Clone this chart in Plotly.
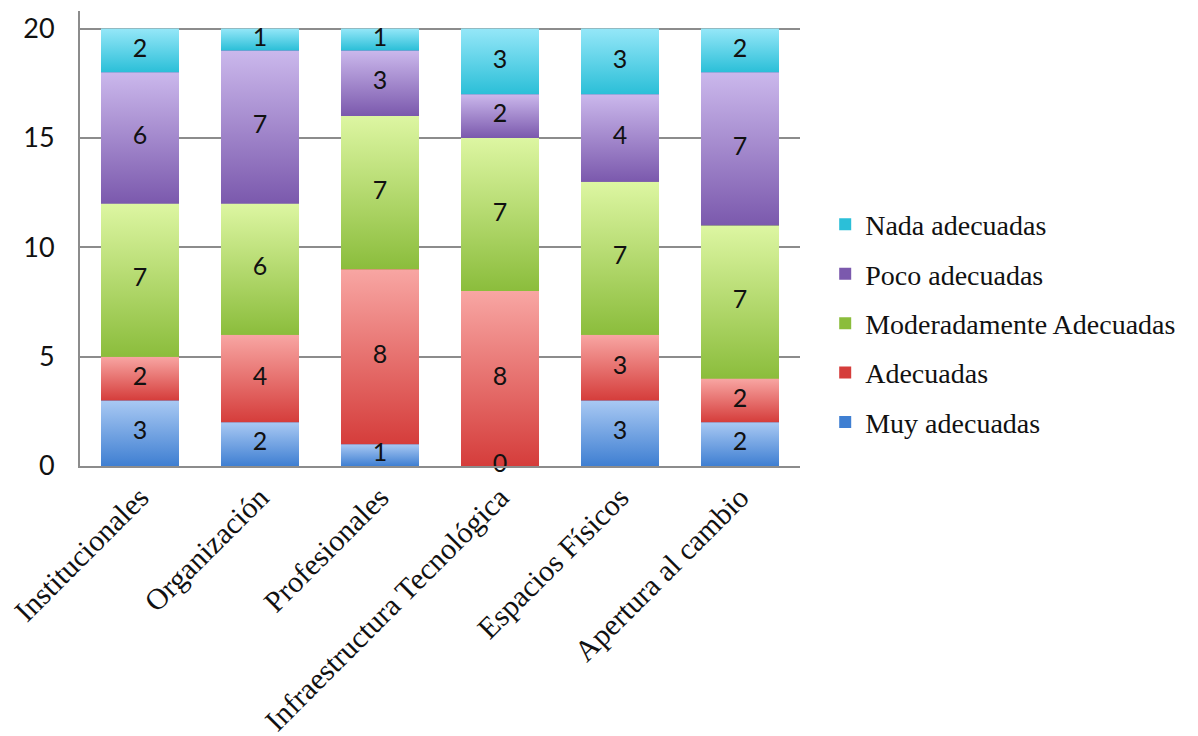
import plotly.graph_objects as go

# Categories (x axis) and the count of responses per rating level
categories = [
    "Institucionales",
    "Organización",
    "Profesionales",
    "Infraestructura Tecnológica",
    "Espacios Físicos",
    "Apertura al cambio",
]
muy_adecuadas = [3, 2, 1, 0, 3, 2]
adecuadas = [2, 4, 8, 8, 3, 2]
moderadamente_adecuadas = [7, 6, 7, 7, 7, 7]
poco_adecuadas = [6, 7, 3, 2, 4, 7]
nada_adecuadas = [2, 1, 1, 3, 3, 2]

y_ticks = [0, 5, 10, 15, 20]

# (name, values, light top colour, dark bottom colour), stacked bottom to top
series = [
    ("Muy adecuadas", muy_adecuadas, "#a9c9f3", "#3f7fd2"),
    ("Adecuadas", adecuadas, "#f8a6a3", "#d53d3b"),
    ("Moderadamente Adecuadas", moderadamente_adecuadas, "#ddf6a2", "#8bbd3c"),
    ("Poco adecuadas", poco_adecuadas, "#cbb8ec", "#7b59ad"),
    ("Nada adecuadas", nada_adecuadas, "#95e7f8", "#2bbfd8"),
]

BAR_W = 0.65
x_idx = list(range(len(categories)))

fig = go.Figure()

# Plain stacked bars (also supply the legend entries, top of stack listed first)
n_series = len(series)
for k, (name, vals, top_c, bot_c) in enumerate(series):
    fig.add_trace(go.Bar(
        x=x_idx, y=vals, name=name, width=BAR_W,
        marker=dict(color=bot_c, line=dict(width=0)),
        legendgroup=name, legendrank=n_series - k, hoverinfo="skip",
    ))

# Vertical gradient fill on top of every stacked segment
base = [0] * len(categories)
label_x, label_y, label_t = [], [], []
for k, (name, vals, top_c, bot_c) in enumerate(series):
    for i, v in enumerate(vals):
        y0, y1 = base[i], base[i] + v
        if v > 0:
            x0, x1 = i - BAR_W / 2, i + BAR_W / 2
            fig.add_trace(go.Scatter(
                x=[x0, x1, x1, x0, x0], y=[y0, y0, y1, y1, y0],
                mode="lines", fill="toself", line=dict(width=0),
                fillgradient=dict(type="vertical",
                                  colorscale=[[0, bot_c], [1, top_c]]),
                showlegend=False, legendgroup=name,
                legendrank=n_series - k, hoverinfo="skip",
            ))
        label_x.append(i)
        label_y.append((y0 + y1) / 2)
        label_t.append(str(v))
        base[i] = y1

# Segment value labels
fig.add_trace(go.Scatter(
    x=label_x, y=label_y, text=label_t, mode="text",
    textfont=dict(family="Lato", size=25, color="#111111"),
    showlegend=False, hoverinfo="skip", cliponaxis=False,
))

fig.update_layout(
    barmode="stack",
    width=1198, height=736,
    margin=dict(l=80, r=398, t=11, b=270),
    plot_bgcolor="white", paper_bgcolor="white",
    showlegend=True,
    legend=dict(
        x=1.035, xanchor="left", y=0.314, yanchor="middle",
        traceorder="grouped", tracegroupgap=10,
        font=dict(family="Liberation Serif", size=28, color="#111111"),
        itemclick=False, itemdoubleclick=False,
    ),
)

fig.update_xaxes(
    range=[-0.5, len(categories) - 0.5],
    tickvals=x_idx, ticktext=categories, tickangle=-45,
    tickfont=dict(family="Liberation Serif", size=30, color="#111111"),
    showgrid=False, showline=True, linecolor="#8c8c8c", linewidth=2,
    ticks="", zeroline=False, automargin=False,
)
fig.update_yaxes(
    range=[0, 20.8], tickvals=y_ticks,
    tickfont=dict(family="Lato", size=27, color="#111111"),
    showgrid=True, gridcolor="#8c8c8c", gridwidth=1.5,
    showline=True, linecolor="#8c8c8c", linewidth=2,
    ticks="", ticklabelstandoff=18, zeroline=False, automargin=False,
)

fig.write_html("out.html")
